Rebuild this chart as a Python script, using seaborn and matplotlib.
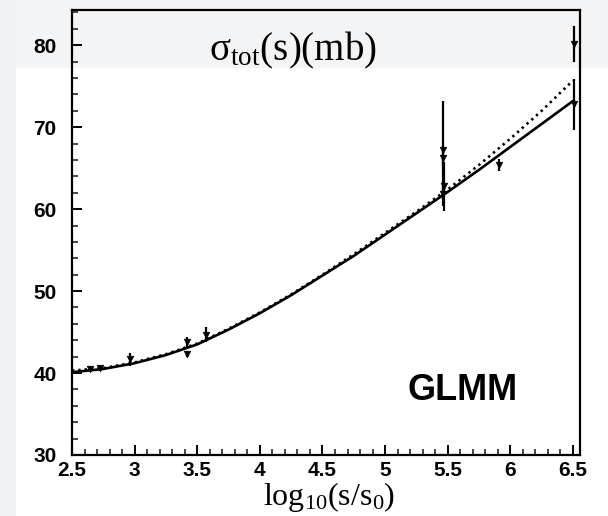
import numpy as np
import pandas as pd
import matplotlib
matplotlib.use("Agg")
import matplotlib.pyplot as plt
import seaborn as sns
from matplotlib.ticker import MultipleLocator, FixedLocator
from matplotlib.patches import Rectangle

# ---- data ----
log_s = [2.5, 2.75, 3.0, 3.25, 3.5, 3.75, 4.0, 4.25, 4.5, 4.75, 5.0, 5.25, 5.5, 5.75, 6.0, 6.25, 6.5]
sigma_solid = [40.1, 40.5, 41.2, 42.2, 43.5, 45.3, 47.3, 49.5, 51.9, 54.3, 56.9, 59.5, 62.1, 64.8, 67.6, 70.4, 73.2]
sigma_dotted = [40.3, 40.6, 41.3, 42.3, 43.6, 45.4, 47.4, 49.6, 52.0, 54.5, 57.1, 59.7, 62.4, 65.4, 68.6, 72.0, 75.7]

pt_x = [2.64, 2.72, 2.96, 3.42, 3.42, 3.57, 5.46, 5.46, 5.46, 5.47, 5.91, 6.51, 6.51]
pt_y = [40.5, 40.6, 41.7, 43.8, 42.3, 44.7, 67.2, 66.3, 61.9, 62.8, 65.4, 80.2, 72.8]
pt_err = [0.3, 0.3, 0.8, 0.6, 0.4, 0.9, 6.0, 1.0, 1.5, 3.0, 0.7, 2.2, 3.1]

x_ticks = [2.5, 3, 3.5, 4, 4.5, 5, 5.5, 6, 6.5]
x_tick_labels = ["2.5", "3", "3.5", "4", "4.5", "5", "5.5", "6", "6.5"]
y_ticks = [30, 40, 50, 60, 70, 80]
y_tick_labels = ["30", "40", "50", "60", "70", "80"]

curves = pd.DataFrame({
    "log_s": log_s * 2,
    "sigma": sigma_solid + sigma_dotted,
    "model": ["solid"] * len(log_s) + ["dotted"] * len(log_s),
})
points = pd.DataFrame({"x": pt_x, "y": pt_y, "err": pt_err})

# ---- style ----
sns.set_style("ticks")
plt.rcParams["font.family"] = ["Liberation Sans", "DejaVu Sans"]
plt.rcParams["mathtext.fontset"] = "custom"
plt.rcParams["mathtext.rm"] = "Liberation Serif"
plt.rcParams["mathtext.it"] = "Liberation Serif:italic"

fig = plt.figure(figsize=(6.08, 5.16), dpi=100)
fig.patch.set_facecolor("white")
# scan tint (top band and left strip), drawn beneath the axes
fig.patches.append(Rectangle((0, 1 - 68 / 516), 1, 68 / 516, transform=fig.transFigure,
                             facecolor="#f3f4f6", edgecolor="none", zorder=-10))
fig.patches.append(Rectangle((0, 0), 16 / 608, 1, transform=fig.transFigure,
                             facecolor="#f0f1f4", edgecolor="none", zorder=-10))

ax = fig.add_axes([72 / 608, 1 - 455 / 516, 508 / 608, 445 / 516])
ax.set_zorder(1)
ax.set_xlim(2.5, 6.556)
ax.set_ylim(30, 84.3)
ax.axhspan(77.2, 85, facecolor="#f3f4f6", edgecolor="none", zorder=0)

sns.lineplot(data=curves, x="log_s", y="sigma", style="model",
             dashes={"solid": "", "dotted": (0.9, 1.5)},
             color="black", linewidth=1.9, legend=False, ax=ax, zorder=3)

ax.errorbar(points["x"], points["y"], yerr=points["err"], fmt="none",
            ecolor="black", elinewidth=1.6, capsize=0, zorder=4)
sns.scatterplot(data=points, x="x", y="y", marker="v", s=22, color="black",
                edgecolor="black", linewidth=0.5, legend=False, ax=ax, zorder=5)

# ---- axes cosmetics ----
for sp in ax.spines.values():
    sp.set_linewidth(1.6)
    sp.set_color("black")
    sp.set_visible(True)

ax.xaxis.set_major_locator(FixedLocator(x_ticks))
ax.set_xticklabels(x_tick_labels)
ax.yaxis.set_major_locator(FixedLocator(y_ticks))
ax.set_yticklabels(y_tick_labels)
ax.xaxis.set_minor_locator(MultipleLocator(0.1))
ax.yaxis.set_minor_locator(MultipleLocator(2))
ax.tick_params(axis="both", which="major", direction="in", length=7, width=1.4,
               labelsize=15, colors="black")
ax.tick_params(axis="both", which="minor", direction="in", length=4, width=1.2)
ax.tick_params(axis="x", which="both", top=False, pad=4)
ax.tick_params(axis="y", which="both", right=False, pad=11)
for lab in ax.get_xticklabels() + ax.get_yticklabels():
    lab.set_fontweight("bold")

ax.set_xlabel("")
ax.set_ylabel("")

ax.text(0.435, 0.91, "σ$_{\\mathrm{tot}}$(s)(mb)", transform=ax.transAxes,
        family=["Liberation Serif", "DejaVu Serif"], fontsize=28,
        ha="center", va="center", color="black")
ax.text(0.506, -0.056, "log$_{10}$(s/s$_{0}$)", transform=ax.transAxes,
        family=["Liberation Serif", "DejaVu Serif"], fontsize=23,
        ha="center", va="top", color="black", clip_on=False)
ax.text(0.768, 0.146, "GLMM", transform=ax.transAxes,
        family=["Liberation Sans", "DejaVu Sans"],
        fontweight="bold", fontsize=26, ha="center", va="center", color="black")

fig.savefig("out.png", dpi=100, facecolor=fig.get_facecolor())
